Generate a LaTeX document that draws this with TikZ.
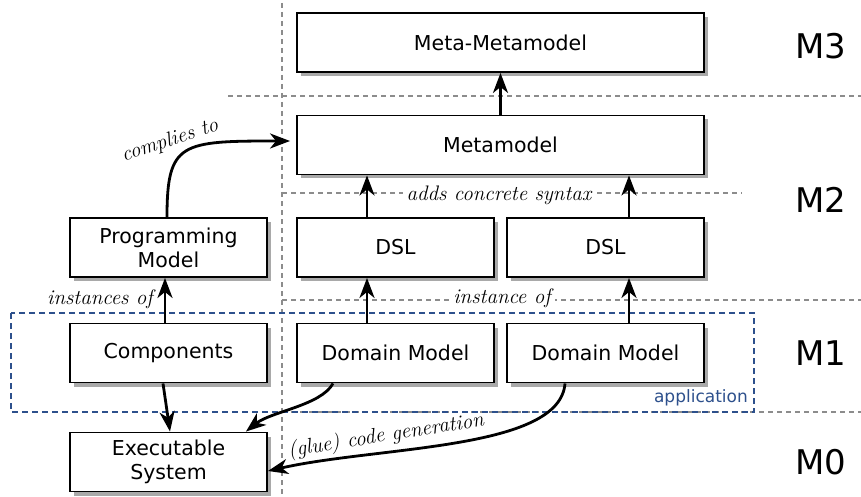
\documentclass[tikz,border=0pt]{standalone}
\usepackage{fontspec}
\setmainfont{DejaVu Sans}
\usetikzlibrary{arrows.meta,shadows}
\definecolor{appblue}{RGB}{45,80,140}
\definecolor{sepgray}{RGB}{140,140,140}
\newcommand{\handfnt}{\fontfamily{lmr}\itshape}
\tikzset{
  box/.style={draw=black, line width=1.9pt, fill=white, minimum width=197pt, minimum height=59pt,
    align=center, font=\fontsize{20.5}{24}\selectfont,
    drop shadow={shadow xshift=4pt, shadow yshift=-4pt, fill=black!45, opacity=0.75}},
  widebox/.style={box, minimum width=407pt},
  arr/.style={line width=2.8pt, -{Stealth[length=20pt,width=15pt,inset=6pt]}},
  sep/.style={draw=sepgray, line width=1.1pt, dash pattern=on 5pt off 4pt},
  lvl/.style={font=\fontsize{34}{34}\selectfont},
  hand/.style={font=\handfnt\fontsize{21}{21}\selectfont},
}
\begin{document}
\begin{tikzpicture}[x=1pt,y=-1pt]
\useasboundingbox (0,0) rectangle (861,497);
% separators
\draw[sep] (282,3) -- (282,497);
\draw[sep] (228,96) -- (861,96);
\draw[sep] (282,193) -- (742,193);
\draw[sep] (282,300) -- (861,300);
\draw[sep] (282,412) -- (861,412);
% application frame
\draw[appblue, line width=1.4pt, dash pattern=on 6pt off 4pt] (11,313) rectangle (754,412);
\node[appblue, anchor=south east, font=\fontsize{17}{17}\selectfont, inner sep=2pt] (app) at (750,408) {application};
% nodes
\node[widebox] (mm) at (500.5,42.5) {Meta-Metamodel};
\node[widebox] (meta) at (500.5,145) {Metamodel};
\node[box] (dsl1) at (395.5,247.5) {DSL};
\node[box] (dsl2) at (605.5,247.5) {DSL};
\node[box] (pm) at (168.5,247.5) {Programming\\Model};
\node[box] (comp) at (168.5,353) {Components};
\node[box] (dm1) at (395.5,353) {Domain Model};
\node[box] (dm2) at (605.5,353) {Domain Model};
\node[box] (exe) at (168.5,462) {Executable\\System};
% level labels
\node[lvl] (m3) at (821,46) {M3};
\node[lvl] (m2) at (821,200) {M2};
\node[lvl] (m1) at (821,353) {M1};
\node[lvl] (m0) at (821,462) {M0};
% connectors
\draw[arr] (meta.north) -- (mm.south);
\draw[arr] ([xshift=-28.5pt]dsl1.north) -- ([xshift=-28.5pt]dsl1.north |- meta.south);
\draw[arr] ([xshift=23.5pt]dsl2.north) -- ([xshift=23.5pt]dsl2.north |- meta.south);
\draw[arr] ([xshift=-28.5pt]dm1.north) -- ([xshift=-28.5pt]dsl1.south);
\draw[arr] ([xshift=23.5pt]dm2.north) -- ([xshift=23.5pt]dsl2.south);
\draw[arr] ([xshift=-3.5pt]comp.north) -- ([xshift=-3.5pt]pm.south);
\draw[arr] ([xshift=-5.5pt]comp.south) -- ([xshift=1.5pt]exe.north);
\draw[arr, shorten >=6pt] ([xshift=-1.5pt]pm.north) .. controls +(0,-75) and +(-115,0) .. ([yshift=4pt]meta.west);
\draw[arr] ([xshift=-62.5pt]dm1.south) .. controls +(-12,22) and +(25,-20) .. ([xshift=-22pt]exe.north east);
\draw[arr] ([xshift=-40.5pt]dm2.south) .. controls +(-5,67) and +(110,-25) .. ([yshift=-9pt]exe.east);
% labels
\node[hand, fill=white, inner xsep=4pt, inner ysep=1pt] (acs) at (499,195) {adds concrete syntax};
\node[hand, fill=white, inner xsep=4pt, inner ysep=1pt] (io) at (502,298) {instance of};
\node[hand] (iso) at (100,299) {instances of};
\node[hand, rotate=18] (ct) at (170,141) {complies to};
\node[hand, rotate=9] (cg) at (386,436) {(glue) code generation};
\end{tikzpicture}
\end{document}
